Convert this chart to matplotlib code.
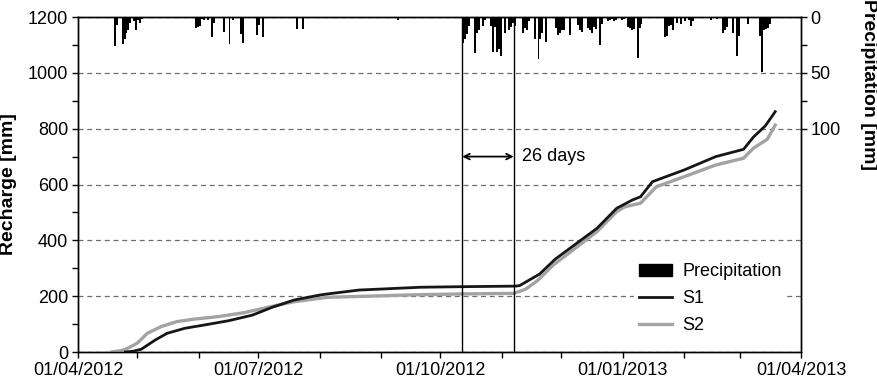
import pandas as pd
import matplotlib
matplotlib.use("Agg")
import matplotlib.pyplot as plt
import matplotlib.dates as mdates
from matplotlib.patches import Patch
from matplotlib.lines import Line2D

plt.rcParams['font.family'] = ['Liberation Sans', 'DejaVu Sans']

START = pd.Timestamp('2012-04-01')
END = pd.Timestamp('2013-04-01')

# Cumulative recharge, days counted from 1 April 2012
s1_days = [24, 28, 32, 39, 45, 54, 64, 76, 88, 98, 109, 122, 126, 142, 173, 194,
           221, 223, 233, 241, 250, 262, 272, 280, 284, 290, 293, 306, 322, 336,
           341, 347, 352]
s1_mm = [0, 3, 10, 43, 67, 85, 97, 112, 132, 160, 186, 204, 208, 222, 232, 234,
         236, 238, 279, 333, 380, 443, 515, 545, 556, 610, 618, 652, 700, 726,
         770, 810, 861]

s2_days = [17, 22, 25, 30, 35, 42, 50, 59, 71, 84, 97, 109, 126, 147, 170, 194,
           220, 226, 232, 240, 250, 262, 272, 276, 284, 292, 306, 322, 336, 341,
           346, 348, 352]
s2_mm = [0, 5, 13, 32, 67, 91, 109, 118, 127, 141, 162, 180, 196, 200, 205, 208,
         210, 225, 256, 312, 366, 431, 503, 520, 533, 592, 628, 670, 694, 730,
         753, 762, 813]

# Daily precipitation
precip_dates = [
    '2012-04-19', '2012-04-20', '2012-04-23', '2012-04-24', '2012-04-25',
    '2012-04-26', '2012-04-27', '2012-04-29', '2012-04-30', '2012-05-01',
    '2012-05-02', '2012-05-03', '2012-05-10', '2012-05-30', '2012-05-31',
    '2012-06-01', '2012-06-02', '2012-06-03', '2012-06-05', '2012-06-07',
    '2012-06-08', '2012-06-13', '2012-06-16', '2012-06-18', '2012-06-22',
    '2012-06-23', '2012-06-28', '2012-06-29', '2012-06-30', '2012-07-01',
    '2012-07-03', '2012-07-09', '2012-07-15', '2012-07-20', '2012-07-23',
    '2012-08-07', '2012-08-29', '2012-09-09',
    '2012-10-12', '2012-10-13', '2012-10-14', '2012-10-15', '2012-10-18',
    '2012-10-19', '2012-10-20', '2012-10-22', '2012-10-23', '2012-10-26',
    '2012-10-27', '2012-10-28', '2012-10-29', '2012-10-30', '2012-10-31',
    '2012-11-02', '2012-11-04', '2012-11-05', '2012-11-06', '2012-11-07',
    '2012-11-11', '2012-11-12', '2012-11-13', '2012-11-14', '2012-11-17',
    '2012-11-19', '2012-11-20', '2012-11-21', '2012-11-23', '2012-11-28',
    '2012-11-29', '2012-11-30', '2012-12-01', '2012-12-02', '2012-12-05',
    '2012-12-09', '2012-12-10', '2012-12-11', '2012-12-14', '2012-12-15',
    '2012-12-16', '2012-12-17', '2012-12-18', '2012-12-20', '2012-12-21',
    '2012-12-24', '2012-12-25', '2012-12-26', '2012-12-27', '2012-12-28',
    '2012-12-31', '2013-01-01', '2013-01-03', '2013-01-04', '2013-01-05',
    '2013-01-06', '2013-01-08', '2013-01-09', '2013-01-10', '2013-01-22',
    '2013-01-23', '2013-01-24', '2013-01-25', '2013-01-26', '2013-01-28',
    '2013-01-30', '2013-02-01', '2013-02-03', '2013-02-04', '2013-02-05',
    '2013-02-14', '2013-02-17', '2013-02-20', '2013-02-21', '2013-02-22',
    '2013-02-25', '2013-02-27', '2013-02-28', '2013-03-05', '2013-03-11',
    '2013-03-12', '2013-03-13', '2013-03-14', '2013-03-15', '2013-03-16',
]
precip_mm = [
    26, 7, 24, 20, 14,
    12, 5, 4, 12, 3,
    5, 2, 1, 10, 9,
    8, 2, 3, 3, 18,
    5, 13, 24, 3, 15,
    23, 1, 1, 16, 7,
    18, 1, 1, 11, 11,
    1, 1, 3,
    23, 20, 15, 8, 32,
    14, 12, 8, 3, 8,
    31, 9, 31, 29, 35,
    14, 12, 9, 5, 8,
    14, 10, 12, 4, 20,
    38, 20, 14, 22, 10,
    16, 14, 12, 12, 16,
    7, 12, 13, 10, 12,
    14, 9, 11, 25, 6,
    4, 3, 2, 4, 3,
    3, 2, 9, 10, 12,
    11, 37, 10, 6, 18,
    17, 8, 7, 12, 5,
    6, 4, 3, 8, 4,
    3, 2, 14, 12, 9,
    14, 35, 17, 6, 17,
    49, 12, 11, 10, 6,
]

# Start and end of the lag between rain onset and recharge response
event_dates = ['2012-10-12', '2012-11-07']
event_label = '26 days'


def main():
    s1_dates = START + pd.to_timedelta(s1_days, unit='D')
    s2_dates = START + pd.to_timedelta(s2_days, unit='D')
    p_dates = pd.to_datetime(precip_dates)
    ev = pd.to_datetime(event_dates)

    fig = plt.figure(figsize=(8.77, 3.85), dpi=100)
    ax = fig.add_axes([0.0889, 0.0857, 0.8244, 0.8701])

    ax.plot(s2_dates, s2_mm, color='#a3a3a3', lw=2.4, zorder=3)
    ax.plot(s1_dates, s1_mm, color='#161616', lw=2.0, zorder=4)

    for d in ev:
        ax.axvline(d, color='black', lw=1.0, zorder=5)

    ax.annotate('', xy=(ev[1], 700), xytext=(ev[0], 700),
                arrowprops=dict(arrowstyle='<->', lw=1.3, color='black',
                                shrinkA=0, shrinkB=0))
    ax.text(ev[1] + pd.Timedelta(days=4), 700, event_label,
            fontsize=13, va='center', ha='left')

    ax.set_xlim(START, END)
    ax.set_ylim(0, 1200)
    ax.set_yticks(range(0, 1201, 200))
    ax.set_yticks(range(0, 1201, 100), minor=True)
    ax.grid(axis='y', which='major', linestyle=(0, (4, 3)), color='#6e6e6e', lw=0.9)
    ax.set_axisbelow(True)

    ax.xaxis.set_major_locator(mdates.MonthLocator(bymonth=[1, 4, 7, 10]))
    ax.xaxis.set_minor_locator(mdates.MonthLocator())
    ax.xaxis.set_major_formatter(mdates.DateFormatter('%d/%m/%Y'))

    ax.set_ylabel('Recharge [mm]', fontsize=14, fontweight='bold', labelpad=8)

    # precipitation hangs from the top on an inverted second axis
    ax2 = ax.twinx()
    ax2.bar(p_dates, precip_mm, width=1.0, color='black', align='edge', lw=0)
    ax2.set_ylim(300, 0)
    ax2.set_yticks([0, 50, 100])
    ax2.set_yticks([25, 75], minor=True)
    ax2.set_xlim(START, END)

    for a in (ax, ax2):
        a.tick_params(which='both', direction='out', labelsize=13, width=1, pad=3)
        a.tick_params(which='major', length=4)
        a.tick_params(which='minor', length=4)
        for sp in a.spines.values():
            sp.set_color('black')
            sp.set_linewidth(1.0)

    fig.text(868 / 877, 1 - 85 / 385, 'Precipitation [mm]', rotation=270,
             ha='center', va='center', fontsize=14, fontweight='bold')

    handles = [Patch(facecolor='black', edgecolor='black'),
               Line2D([], [], color='#161616', lw=2.0),
               Line2D([], [], color='#a3a3a3', lw=2.4)]
    leg = ax2.legend(handles, ['Precipitation', 'S1', 'S2'], loc='upper left',
                     bbox_to_anchor=(0.769, 0.281), frameon=True, fancybox=False,
                     fontsize=13, handlelength=1.8, handletextpad=0.6,
                     labelspacing=0.55, borderpad=0.3, borderaxespad=0)
    leg.get_frame().set_facecolor('white')
    leg.get_frame().set_edgecolor('none')
    leg.get_frame().set_alpha(1.0)

    fig.savefig('out.png', dpi=100)


if __name__ == '__main__':
    main()
